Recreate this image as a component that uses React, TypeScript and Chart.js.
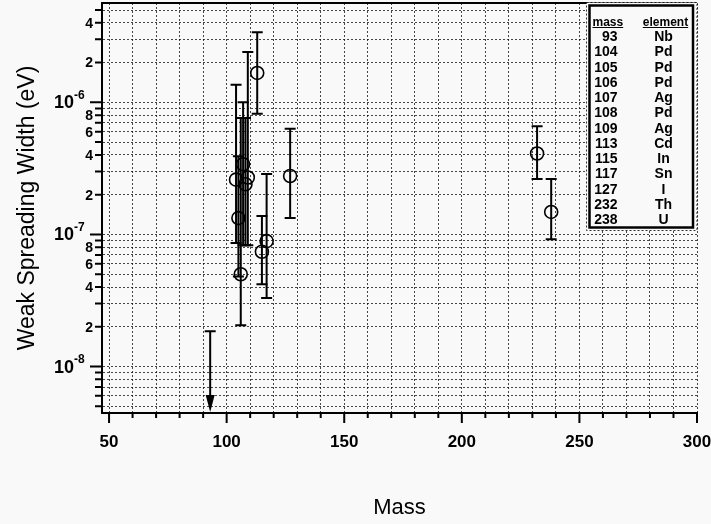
import { useEffect, useRef } from 'react';
import { Chart, registerables } from 'chart.js';

Chart.register(...registerables);

const FONT = "'Liberation Sans', Arial, Helvetica, sans-serif";
const BG = '#f9f9f9';

// ---- data ----
const masses = [93, 104, 105, 106, 107, 108, 109, 113, 115, 117, 127, 232, 238];
const elements = ['Nb', 'Pd', 'Pd', 'Pd', 'Ag', 'Pd', 'Ag', 'Cd', 'In', 'Sn', 'I', 'Th', 'U'];
const widths = [null, 2.6e-7, 1.33e-7, 5.0e-8, 3.4e-7, 2.4e-7, 2.7e-7, 1.67e-6, 7.4e-8, 8.9e-8, 2.77e-7, 4.1e-7, 1.48e-7];
const errLow = [null, 8.6e-8, 4.8e-8, 2.05e-8, 8.3e-8, 8.3e-8, 8.3e-8, 8.2e-7, 4.2e-8, 3.3e-8, 1.33e-7, 2.63e-7, 9.2e-8];
const errHigh = [1.85e-8, 1.36e-6, 3.9e-7, 7.6e-7, 1.0e-6, 7.6e-7, 2.4e-6, 3.4e-6, 1.38e-7, 2.87e-7, 6.3e-7, 6.6e-7, 2.63e-7];
const upperLimit = [true, false, false, false, false, false, false, false, false, false, false, false, false];

// ---- axes ----
const xMin = 47;
const xMax = 300;
const xTicks = [50, 60, 70, 80, 90, 100, 110, 120, 130, 140, 150, 160, 170, 180, 190, 200, 210, 220, 230, 240, 250, 260, 270, 280, 290, 300];
const xLabelled = [50, 100, 150, 200, 250, 300];
const yMin = 4.45e-9;
const yMax = 5.65e-6;
const yDecades = [-9, -8, -7, -6];
const yMantissas = [1, 2, 3, 4, 5, 6, 7, 8, 9];
const yLabelledMantissas = [2, 4, 6, 8];

const tableHeader = ['mass', 'element'];

function yTickValues(): number[] {
  const out: number[] = [];
  for (const d of yDecades) {
    for (const m of yMantissas) {
      const v = m * Math.pow(10, d);
      if (v >= yMin && v <= yMax) out.push(v);
    }
  }
  return out;
}

const bgPlugin = {
  id: 'bgFill',
  beforeDraw(chart: any) {
    const ctx = chart.ctx;
    ctx.save();
    ctx.fillStyle = BG;
    ctx.fillRect(0, 0, chart.width, chart.height);
    ctx.restore();
  },
};

const errorBarPlugin = {
  id: 'errorBars',
  afterDatasetsDraw(chart: any) {
    const { ctx, chartArea: a, scales } = chart;
    const x = scales.x;
    const y = scales.y;
    ctx.save();
    ctx.beginPath();
    ctx.rect(a.left, a.top, a.right - a.left, a.bottom - a.top);
    ctx.clip();
    ctx.strokeStyle = '#000';
    ctx.fillStyle = '#000';
    ctx.lineWidth = 2;
    const cap = 5.5;
    masses.forEach((m, i) => {
      const px = x.getPixelForValue(m);
      const hi = y.getPixelForValue(errHigh[i]);
      if (upperLimit[i]) {
        const tip = y.getPixelForValue(yMin) - 1;
        ctx.beginPath();
        ctx.moveTo(px, hi);
        ctx.lineTo(px, tip - 15);
        ctx.moveTo(px - cap, hi);
        ctx.lineTo(px + cap, hi);
        ctx.stroke();
        ctx.beginPath();
        ctx.moveTo(px - 4.5, tip - 17);
        ctx.lineTo(px + 4.5, tip - 17);
        ctx.lineTo(px, tip);
        ctx.closePath();
        ctx.fill();
      } else {
        const lo = y.getPixelForValue(errLow[i] as number);
        ctx.beginPath();
        ctx.moveTo(px, hi);
        ctx.lineTo(px, lo);
        ctx.moveTo(px - cap, hi);
        ctx.lineTo(px + cap, hi);
        ctx.moveTo(px - cap, lo);
        ctx.lineTo(px + cap, lo);
        ctx.stroke();
      }
    });
    ctx.restore();
  },
};

const framePlugin = {
  id: 'frameAndTicks',
  afterDraw(chart: any) {
    const { ctx, chartArea: a, scales } = chart;
    const x = scales.x;
    const y = scales.y;
    ctx.save();
    ctx.strokeStyle = '#000';
    ctx.lineWidth = 2;
    ctx.setLineDash([]);
    ctx.beginPath();
    ctx.moveTo(a.left - 1, a.top);
    ctx.lineTo(a.right, a.top);
    // x tick marks
    for (const t of x.ticks) {
      const px = x.getPixelForValue(t.value);
      const major = xLabelled.includes(t.value);
      ctx.moveTo(px, a.bottom);
      ctx.lineTo(px, a.bottom + (major ? 10 : 5));
    }
    // y tick marks
    for (const t of y.ticks) {
      const py = y.getPixelForValue(t.value);
      const e = Math.floor(Math.log10(t.value) + 1e-9);
      const mant = Math.round(t.value / Math.pow(10, e));
      const len = mant === 1 ? 12 : 7;
      ctx.moveTo(a.left, py);
      ctx.lineTo(a.left - len, py);
    }
    ctx.stroke();

    // y labels
    ctx.fillStyle = '#000';
    ctx.textBaseline = 'middle';
    for (const d of yDecades) {
      const v = Math.pow(10, d);
      if (v < yMin || v > yMax) continue;
      const py = y.getPixelForValue(v);
      ctx.font = `bold 18px ${FONT}`;
      ctx.textAlign = 'right';
      ctx.fillText('10', a.left - 28, py + 1);
      ctx.font = `bold 12px ${FONT}`;
      ctx.textAlign = 'left';
      ctx.fillText(String(d), a.left - 28, py - 7);
      for (const m of yLabelledMantissas) {
        const mv = m * v;
        if (mv < yMin || mv > yMax) continue;
        const mpy = y.getPixelForValue(mv);
        ctx.font = `bold 14px ${FONT}`;
        ctx.textAlign = 'right';
        ctx.fillText(String(m), a.left - 9, mpy + 1);
      }
    }
    ctx.restore();
  },
};

const tablePlugin = {
  id: 'massTable',
  afterDraw(chart: any) {
    const { ctx, chartArea: a } = chart;
    const right = a.right;
    const ox = right - 110.5;
    const oy = a.top - 0.5;
    const ow = 110.5;
    const oh = 228;
    ctx.save();
    ctx.fillStyle = BG;
    ctx.fillRect(ox, oy, ow, oh);
    ctx.strokeStyle = 'rgba(0,0,0,0.8)';
    ctx.lineWidth = 1;
    ctx.setLineDash([2, 2]);
    ctx.strokeRect(ox, oy, ow, oh);
    ctx.setLineDash([]);
    ctx.strokeStyle = '#000';
    ctx.lineWidth = 2.5;
    const ix = ox + 3;
    const iy = oy + 3;
    const iw = ow - 7;
    const ih = oh - 6;
    ctx.strokeRect(ix, iy, iw, ih);

    const massRight = ix + 28;
    const elemCenter = ix + 74;
    ctx.fillStyle = '#000';
    ctx.textBaseline = 'alphabetic';
    ctx.font = `bold 12px ${FONT}`;
    const hy = iy + 20;
    ctx.textAlign = 'left';
    ctx.fillText(tableHeader[0], ix + 3, hy);
    const mw = ctx.measureText(tableHeader[0]).width;
    ctx.textAlign = 'center';
    ctx.fillText(tableHeader[1], elemCenter + 2, hy);
    const ew = ctx.measureText(tableHeader[1]).width;
    ctx.lineWidth = 1;
    ctx.beginPath();
    ctx.moveTo(ix + 3, hy + 2);
    ctx.lineTo(ix + 3 + mw, hy + 2);
    ctx.moveTo(elemCenter + 2 - ew / 2, hy + 2);
    ctx.lineTo(elemCenter + 2 + ew / 2, hy + 2);
    ctx.stroke();

    ctx.font = `bold 14px ${FONT}`;
    masses.forEach((m, i) => {
      const ry = iy + 35.5 + i * 15.25;
      ctx.textAlign = 'right';
      ctx.fillText(String(m), massRight, ry);
      ctx.textAlign = 'center';
      ctx.fillText(elements[i], elemCenter, ry);
    });
    ctx.restore();
  },
};

export default function App() {
  const ref = useRef<HTMLCanvasElement | null>(null);
  useEffect(() => {
    if (!ref.current) return;
    const points = masses
      .map((m, i) => (widths[i] == null ? null : { x: m, y: widths[i] as number }))
      .filter((p) => p !== null);
    const gridColor = 'rgba(0,0,0,0.72)';
    const chart = new Chart(ref.current, {
      type: 'scatter',
      data: {
        datasets: [
          {
            data: points as any,
            pointRadius: 6.5,
            pointHoverRadius: 6.5,
            pointBackgroundColor: 'rgba(0,0,0,0)',
            pointBorderColor: '#000',
            pointBorderWidth: 1.6,
          },
        ],
      },
      options: {
        responsive: false,
        animation: false,
        devicePixelRatio: 1,
        layout: { autoPadding: false, padding: { top: 3, right: 14, left: 0, bottom: 0 } },
        plugins: { legend: { display: false }, tooltip: { enabled: false } },
        scales: {
          x: {
            type: 'linear',
            min: xMin,
            max: xMax,
            afterBuildTicks: (scale: any) => {
              scale.ticks = xTicks.map((v) => ({ value: v }));
            },
            afterFit: (scale: any) => {
              scale.height = 111;
              scale.paddingLeft = 0;
              scale.paddingRight = 0;
            },
            grid: { color: gridColor, lineWidth: 1, drawTicks: false },
            border: { display: true, color: '#000', width: 2, dash: [2, 2] },
            ticks: {
              autoSkip: false,
              maxRotation: 0,
              padding: 19,
              color: '#000',
              font: { family: FONT, size: 17, weight: 'bold' },
              callback: (v: any) => (xLabelled.includes(Number(v)) ? String(v) : ''),
            },
            title: {
              display: true,
              text: 'Mass',
              color: '#000',
              font: { family: FONT, size: 22 },
              padding: { top: 0, bottom: 3 },
            },
          },
          y: {
            type: 'logarithmic',
            min: yMin,
            max: yMax,
            afterBuildTicks: (scale: any) => {
              scale.ticks = yTickValues().map((v) => ({ value: v }));
            },
            afterFit: (scale: any) => {
              scale.width = 102;
              scale.paddingTop = 0;
              scale.paddingBottom = 0;
            },
            grid: { color: gridColor, lineWidth: 1, drawTicks: false },
            border: { display: true, color: '#000', width: 2, dash: [2, 2] },
            ticks: { display: false },
            title: {
              display: true,
              text: 'Weak Spreading Width (eV)',
              color: '#000',
              font: { family: FONT, size: 23 },
              padding: { top: 14, bottom: 0 },
            },
          },
        },
      },
      plugins: [bgPlugin, errorBarPlugin, framePlugin, tablePlugin],
    } as any);
    return () => chart.destroy();
  }, []);
  return (
    <div style={{ position: 'absolute', left: 0, top: 0, width: 711, height: 524 }}>
      <canvas ref={ref} width={711} height={524} style={{ display: 'block' }} />
    </div>
  );
}
